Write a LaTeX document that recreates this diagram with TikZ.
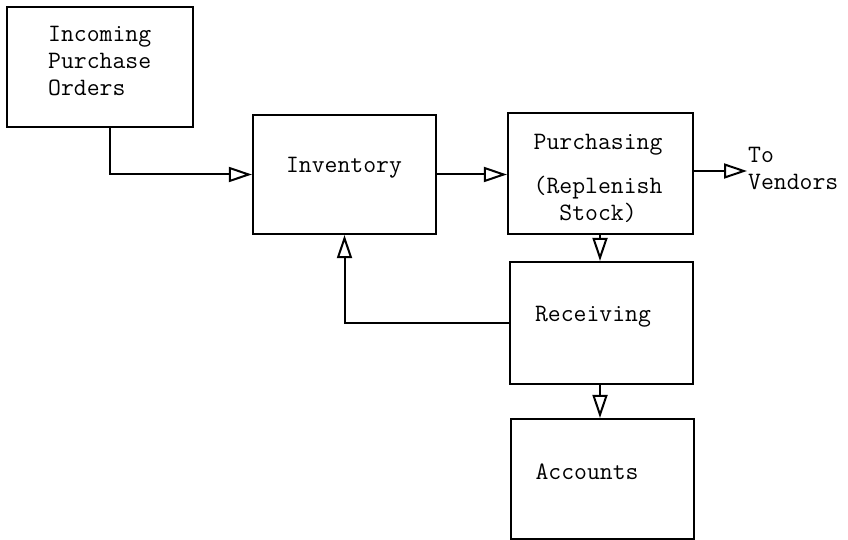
\documentclass[tikz,border=0pt]{standalone}
\usepackage{fontspec}
\usetikzlibrary{arrows.meta,calc}
\begin{document}
\begin{tikzpicture}[x=1pt,y=-1pt,
  box/.style={draw,line width=2.2pt,rectangle,inner sep=0pt},
  lbl/.style={inner sep=0pt,font=\ttfamily\fontsize{25}{27}\selectfont,align=left},
  arr/.style={line width=2pt,-{Triangle[open,length=23pt,width=15pt,line width=2pt]}}]
\useasboundingbox (0,0) rectangle (848,540);
\node[box,minimum width=186pt,minimum height=120pt] (b1) at (100,67) {};
\node[lbl,anchor=north west] (b1t) at (48,26) {Incoming\\Purchase\\Orders};
\node[box,minimum width=183pt,minimum height=119pt] (inv) at (344.5,174.5) {};
\node[lbl] (invt) at (344,168) {Inventory};
\node[box,minimum width=185pt,minimum height=121pt] (pur) at (600.5,173.5) {};
\node[lbl,align=center] (purt) at (598,178) {Purchasing\\[17pt](Replenish\\Stock)};
\node[box,minimum width=183pt,minimum height=122pt] (rec) at (601.5,323) {};
\node[lbl] (rect) at (593,317) {Receiving};
\node[box,minimum width=183pt,minimum height=120pt] (acc) at (602.5,479) {};
\node[lbl] (acct) at (587,472) {Accounts};
\node[lbl,anchor=west] (vend) at (748,168) {To\\Vendors};
\coordinate (vtip) at (747,171);
\draw[arr] (b1.south -| 110,0) |- (inv.west);
\draw[arr] (inv.east) -- (inv.east -| pur.west);
\draw[arr] (pur.east |- vtip) -- (vtip);
\draw[arr] (pur.south -| 600,0) -- (rec.north -| 600,0);
\draw[arr] (rec.south -| 600,0) -- (acc.north -| 600,0);
\draw[arr] (rec.west) -| (inv.south);
\end{tikzpicture}
\end{document}
